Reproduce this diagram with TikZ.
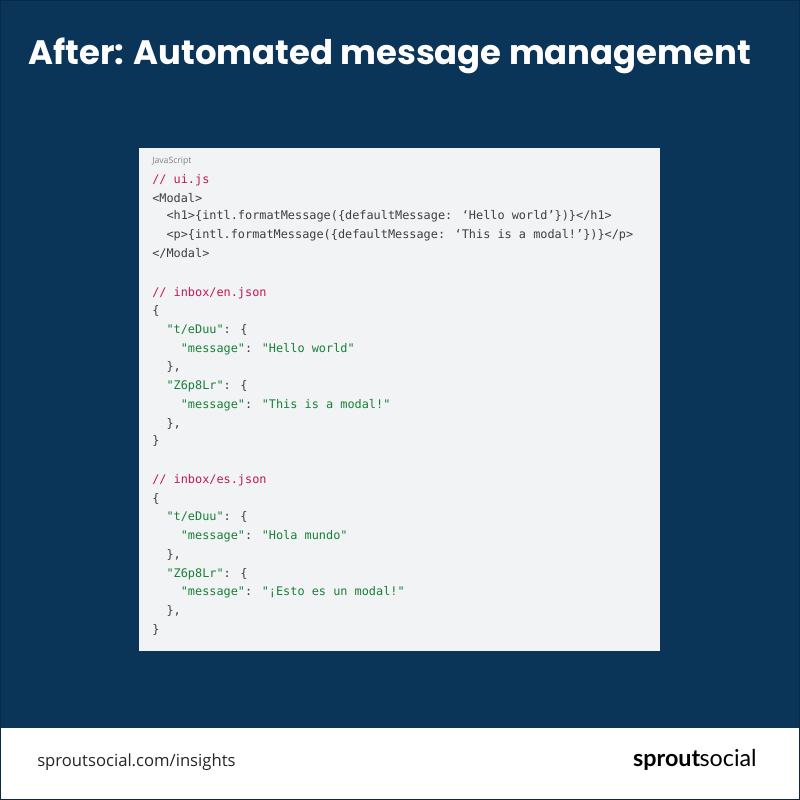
\documentclass[tikz,border=0pt]{standalone}
\usepackage{fontspec}
\setmainfont{Open Sans}
\newfontfamily\titlefont{Poppins Bold}
\newfontfamily\codefont{DejaVu Sans Mono}
\newfontfamily\logofont{Lato}
\definecolor{navy}{HTML}{0B3558}
\definecolor{codebg}{HTML}{F1F3F4}
\definecolor{codefg}{HTML}{3C4043}
\definecolor{cmt}{HTML}{C2185B}
\definecolor{str}{HTML}{188038}
\newcommand{\cm}[1]{\textcolor{cmt}{#1}}
\newcommand{\st}[1]{\textcolor{str}{#1}}
\tikzset{code/.style={anchor=west, inner sep=0pt, text=codefg, font=\codefont\fontsize{8.9}{11}\selectfont}}
\begin{document}
\begin{tikzpicture}[x=0.75pt, y=-0.75pt]
    \useasboundingbox (0, 0) rectangle (800, 800);
    \fill[navy] (0, 0) rectangle (800, 728);
    \fill[white] (0, 728) rectangle (800, 800);
    \draw[navy!80!black, line width=0.75pt] (0.5, 0.5) rectangle (799.5, 799.5);
    \fill[codebg] (139, 148) rectangle (660, 651);

    \node (title) at (28, 56) [anchor=west, inner sep=0pt, text=white, font=\titlefont\fontsize{25.4}{29}\selectfont] {After: Automated message management};
    \node (lang) at (152, 161) [anchor=west, inner sep=0pt, text=gray, font=\fontsize{6.5}{8}\selectfont] {JavaScript};

    \node (l1) at (152, 180) [code] {\cm{// ui.js}};
    \node (l2) at (152, 198) [code] {<Modal>};
    \node (l3) at (152, 216) [code] {\ \ <h1>\{intl.formatMessage(\{defaultMessage: ‘Hello world’\})\}</h1>};
    \node (l4) at (152, 235) [code] {\ \ <p>\{intl.formatMessage(\{defaultMessage: ‘This is a modal!’\})\}</p>};
    \node (l5) at (152, 254) [code] {</Modal>};

    \node (e1) at (152, 293) [code] {\cm{// inbox/en.json}};
    \node (e2) at (152, 311) [code] {\{};
    \node (e3) at (152, 330) [code] {\ \ \st{"t/eDuu"}: \{};
    \node (e4) at (152, 349) [code] {\ \ \ \ \st{"message"}: \st{"Hello world"}};
    \node (e5) at (152, 367) [code] {\ \ \},};
    \node (e6) at (152, 386) [code] {\ \ \st{"Z6p8Lr"}: \{};
    \node (e7) at (152, 405) [code] {\ \ \ \ \st{"message"}: \st{"This is a modal!"}};
    \node (e8) at (152, 424) [code] {\ \ \},};
    \node (e9) at (152, 441) [code] {\}};

    \node (s1) at (152, 480) [code] {\cm{// inbox/es.json}};
    \node (s2) at (152, 499) [code] {\{};
    \node (s3) at (152, 517) [code] {\ \ \st{"t/eDuu"}: \{};
    \node (s4) at (152, 536) [code] {\ \ \ \ \st{"message"}: \st{"Hola mundo"}};
    \node (s5) at (152, 555) [code] {\ \ \},};
    \node (s6) at (152, 574) [code] {\ \ \st{"Z6p8Lr"}: \{};
    \node (s7) at (152, 592) [code] {\ \ \ \ \st{"message"}: \st{"¡Esto es un modal!"}};
    \node (s8) at (152, 611) [code] {\ \ \},};
    \node (s9) at (152, 630) [code] {\}};

    \node (url) at (37, 762) [anchor=west, inner sep=0pt, text=black!85, font=\fontsize{12.5}{15}\selectfont] {sproutsocial.com/insights};
    \node (logo) at (757, 760) [anchor=east, inner sep=0pt, text=black, font=\logofont\fontsize{17.5}{20}\selectfont] {\textbf{sprout}\kern-0.5pt social};
\end{tikzpicture}
\end{document}
